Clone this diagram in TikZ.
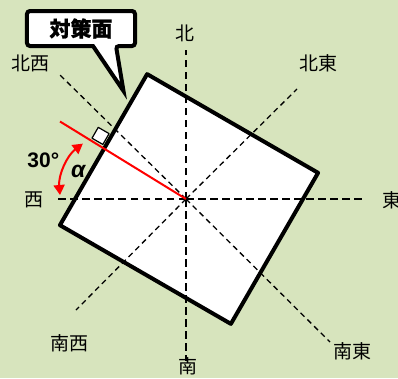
\documentclass[tikz,border=0pt]{standalone}
\usepackage{fontspec}
\setmainfont{Liberation Sans}
\newfontfamily\jp{Noto Sans CJK JP}
\newfontfamily\jpheavy[BoldFeatures={FakeBold=1}]{Noto Sans CJK JP}
\usetikzlibrary{arrows.meta}
\definecolor{bggreen}{HTML}{D7E4BD}

\begin{document}
\begin{tikzpicture}[x=1pt,y=1pt,line join=round,
    dirlabel/.style={font=\jp\fontsize{19}{19}\selectfont,inner sep=0pt},
    mainaxis/.style={line width=2.2pt,dash pattern=on 7.5pt off 4.5pt},
    diagaxis/.style={line width=1.3pt,dash pattern=on 5.5pt off 4pt},
    redtip/.tip={Triangle[length=10pt,width=11pt]}]
  \fill[bggreen] (-186,-179) rectangle (212,199);
  \useasboundingbox (-186,-179) rectangle (212,199);
  \coordinate (O) at (0,0);
  % the face (rotated box)
  \node[fill=white,rotate=-30,minimum width=197pt,minimum height=174pt,inner sep=0pt] (box) at (3,0) {};
  % direction labels
  \node[dirlabel] (n)  at (-1,166)      {北};
  \node[dirlabel] (s)  at (2,-167.5)    {南};
  \node[dirlabel] (w)  at (-152,-1)     {西};
  \node[dirlabel] (e)  at (206,-1)      {東};
  \node[dirlabel] (nw) at (-155,136)    {北西};
  \node[dirlabel] (ne) at (132,136)     {北東};
  \node[dirlabel] (sw) at (-116,-144)   {南西};
  \node[dirlabel] (se) at (166,-152.5)  {南東};
  % ends of the dashed lines
  \coordinate (nEnd)  at (0,149);
  \coordinate (sEnd)  at (0,-162);
  \coordinate (wEnd)  at (-132,0);
  \coordinate (eEnd)  at (176,0);
  \coordinate (nwEnd) at (-126,124);
  \coordinate (neEnd) at (111,110);
  \coordinate (swEnd) at (-110,-111);
  \coordinate (seEnd) at (144,-143);
  \foreach \p in {nwEnd,neEnd,swEnd,seEnd} \draw[diagaxis] (O) -- (\p);
  \foreach \p in {nEnd,sEnd,wEnd,eEnd} \draw[mainaxis] (O) -- (\p);
  \draw[line width=4pt] (box.north west) -- (box.north east) -- (box.south east) -- (box.south west) -- cycle;
  % normal of the face
  \coordinate (r) at (-126,77.5);
  \draw[red,line width=2pt] (r) -- (O);
  \coordinate (P) at (intersection of r--O and box.south west--box.north west);
  \begin{scope}[shift={(P)},rotate=60]
    \draw[fill=white,line width=1.2pt] (3,3.2) rectangle (15.5,15.7);
  \end{scope}
  % angle
  \coordinate (arcStart) at (-126,4);
  \draw[red,line width=2pt,redtip-redtip] (arcStart) arc[start angle=185,end angle=127,radius=58];
  \node[font=\bfseries\fontsize{21}{21}\selectfont,inner sep=0pt] (deg) at (-142.7,38.5) {30°};
  \node[font=\bfseries\itshape\fontsize{23}{23}\selectfont,inner sep=0pt] (alpha) at (-107.7,27.3) {α};
  % callout
  \draw[line width=4pt,fill=white,line join=miter,rounded corners=3pt] (-93,153) -- (-159,153) -- (-159,188) -- (-51,188) -- (-51,153) -- (-70,153) [sharp corners] -- (-62.5,108) -- cycle;
  \node[font=\jpheavy\bfseries\fontsize{21}{21}\selectfont,inner sep=0pt] (face) at (-105,170.5) {対策面};
\end{tikzpicture}
\end{document}
